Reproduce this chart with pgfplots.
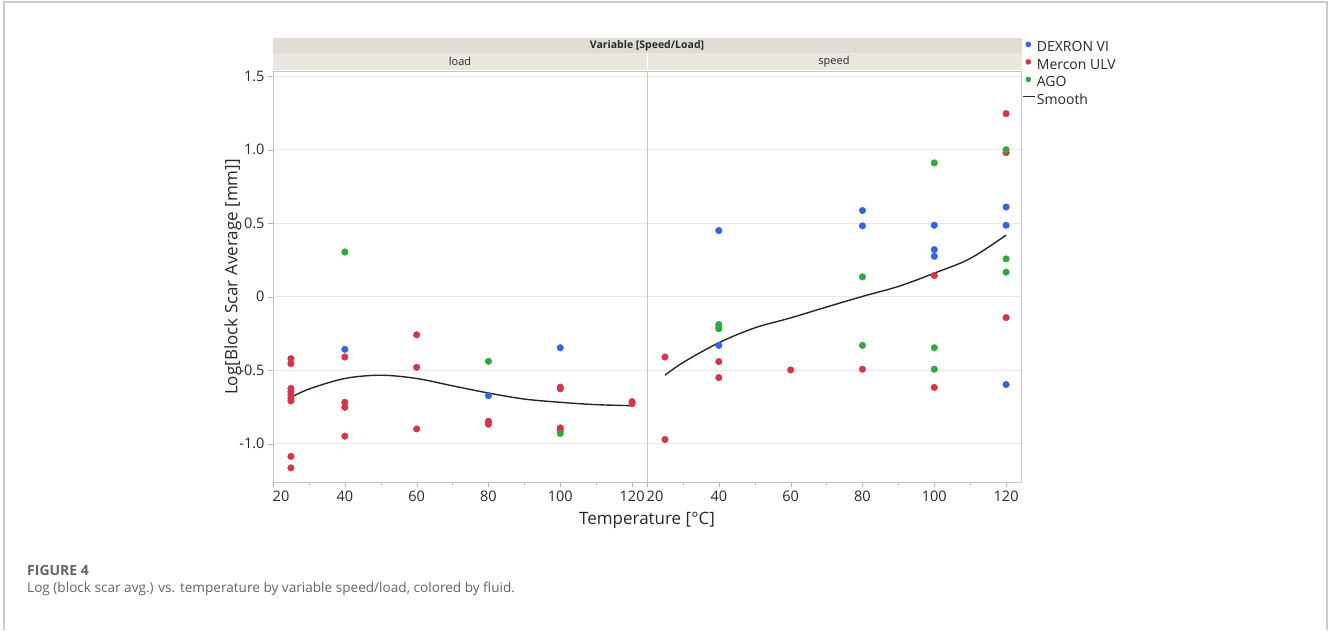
\documentclass[border=0pt]{standalone}
\usepackage{fontspec}
\setmainfont{Open Sans}
\usepackage{pgfplots}
\pgfplotsset{compat=1.18}
\definecolor{cblue}{RGB}{52,100,224}
\definecolor{cred}{RGB}{214,52,72}
\definecolor{cgreen}{RGB}{46,168,64}
\definecolor{stripA}{RGB}{224,222,212}
\definecolor{stripB}{RGB}{233,231,223}
\definecolor{txt}{RGB}{40,40,40}
\definecolor{capgray}{RGB}{100,100,100}
\pgfplotsset{
  panel/.style={
    scale only axis, width=374pt, height=411pt,
    xmin=20, xmax=124.15, ymin=-1.26, ymax=1.535,
    axis line style={draw=gray!45},
    xtick={40,60,80,100,120},
    xticklabels={40,60,80,100,120},
    minor xtick={30,50,70,90,110},
    extra x ticks={20},
    extra x tick labels={20},
    extra x tick style={xticklabel style={xshift=8pt}},
    xtick pos=bottom, ytick pos=left,
    tick align=outside,
    major tick length=5pt, minor tick length=3pt,
    tick style={gray!60},
    ytick={-1,-0.5,0,0.5,1,1.5},
    ymajorgrids, major grid style={draw=gray!18, line width=0.8pt},
    ticklabel style={font=\fontsize{14.5}{16}\selectfont, text=txt},
    /pgf/number format/assume math mode=true,
    clip=false,
  },
  dot/.style={only marks, mark=*, mark size=3.3pt, mark options={draw=none}},
  smoothline/.style={smooth, tension=0.55, no marks, line width=1.4pt, color=black!85},
}
\begin{document}
\begin{tikzpicture}[x=1pt,y=1pt]
\useasboundingbox (0,0) rectangle (1328,630);
% outer frame
\draw[color=gray!40, line width=1.6pt] (4,0) -- (4,628) -- (1327,628) -- (1327,0);
% strips
\fill[stripA] (273,592) rectangle (1022,577);
\fill[stripB] (273,576.5) rectangle (1022,560);
\draw[white, line width=0.6pt] (647,577) -- (647,560);
\node[font=\bfseries\fontsize{10.5}{12}\selectfont, text=txt] at (647,584.5) {Variable [Speed/Load]};
\node[font=\fontsize{11}{12}\selectfont, text=txt] at (460,568.5) {load};
\node[font=\fontsize{11}{12}\selectfont, text=txt] at (834,568.5) {speed};
\begin{axis}[panel, at={(273pt,148pt)}, anchor=south west,
  yticklabels={-1.0,-0.5,0,0.5,1.0,1.5},
]
\addplot[dot, color=cblue] coordinates {(40,-0.358) (80,-0.673) (100,-0.347)};
\addplot[dot, color=cred] coordinates {
 (25,-0.421) (25,-0.455) (25,-0.624) (25,-0.647) (25,-0.667) (25,-0.691) (25,-0.709) (25,-1.086) (25,-1.164)
 (40,-0.410) (40,-0.718) (40,-0.752) (40,-0.948)
 (60,-0.259) (60,-0.480) (60,-0.899)
 (80,-0.847) (80,-0.867)
 (100,-0.615) (100,-0.626) (100,-0.892) (100,-0.910)
 (120,-0.714) (120,-0.727)};
\addplot[dot, color=cgreen] coordinates {(40,0.304) (80,-0.439) (100,-0.930)};
\addplot[smoothline] coordinates {(25,-0.685) (30,-0.628) (40,-0.556) (50,-0.534) (60,-0.556) (70,-0.606) (80,-0.655) (90,-0.696) (100,-0.718) (110,-0.734) (120,-0.741)};
\end{axis}
\begin{axis}[panel, at={(647pt,148pt)}, anchor=south west,
  yticklabels={}, y tick style={draw=none},
  legend style={at={(1.004,1.073)}, anchor=north west, draw=none, fill=none, inner sep=0pt,
     font=\fontsize{14}{16}\selectfont, text=txt,
     nodes={inner sep=0pt, text height=10pt, text depth=3pt},
     row sep=4pt, column sep=1pt},
  legend cell align=left,
]
\addplot[dot, color=cblue, legend image code/.code={\path[draw=none,fill=none] (0pt,0pt) rectangle (12pt,7pt); \fill[cblue, draw=none] (5pt,3.8pt) circle (2.8pt);}] coordinates {(40,0.45) (40,-0.331) (80,0.586) (80,0.482) (100,0.486) (100,0.32) (100,0.275) (120,0.61) (120,0.486) (120,-0.597)};
\addlegendentry{DEXRON VI}
\addplot[dot, color=cred, legend image code/.code={\path[draw=none,fill=none] (0pt,0pt) rectangle (12pt,7pt); \fill[cred, draw=none] (5pt,3.8pt) circle (2.8pt);}] coordinates {(25,-0.41) (25,-0.971) (40,-0.441) (40,-0.55) (60,-0.498) (80,-0.493) (100,0.144) (100,-0.617) (120,1.245) (120,0.98) (120,-0.142)};
\addlegendentry{Mercon ULV}
\addplot[dot, color=cgreen, legend image code/.code={\path[draw=none,fill=none] (0pt,0pt) rectangle (12pt,7pt); \fill[cgreen, draw=none] (5pt,3.8pt) circle (2.8pt);}] coordinates {(40,-0.189) (40,-0.205) (40,-0.218) (80,0.135) (80,-0.331) (100,0.91) (100,-0.347) (100,-0.493) (120,1.0) (120,0.257) (120,0.167)};
\addlegendentry{AGO}
\addplot[smoothline, legend image code/.code={\path[draw=none,fill=none] (0pt,0pt) rectangle (12pt,7pt); \draw[black!85, line width=1.2pt] (0pt,3.8pt) -- (12pt,3.8pt);}] coordinates {(25,-0.534) (30,-0.448) (40,-0.313) (50,-0.212) (60,-0.144) (70,-0.07) (80,0.002) (90,0.07) (100,0.16) (110,0.26) (120,0.419)};
\addlegendentry{Smooth}
\end{axis}
\draw[gray!45] (647,148) -- (647,559);
% axis labels
\node[font=\fontsize{17}{19}\selectfont, text=txt] at (647,110) {Temperature [°C]};
\node[font=\fontsize{17}{19}\selectfont, text=txt, rotate=90] at (233,353) {Log[Block Scar Average [mm]]};
% caption
\node[anchor=base west, font=\fontsize{14}{16}\selectfont\bfseries, text=capgray, inner sep=0pt] at (27,55) {FIGURE 4};
\node[anchor=base west, font=\fontsize{13.6}{16}\selectfont, text=capgray, inner sep=0pt] at (27,38) {Log (block scar avg.) vs. temperature by variable speed/load, colored by fluid.};
\end{tikzpicture}
\end{document}
